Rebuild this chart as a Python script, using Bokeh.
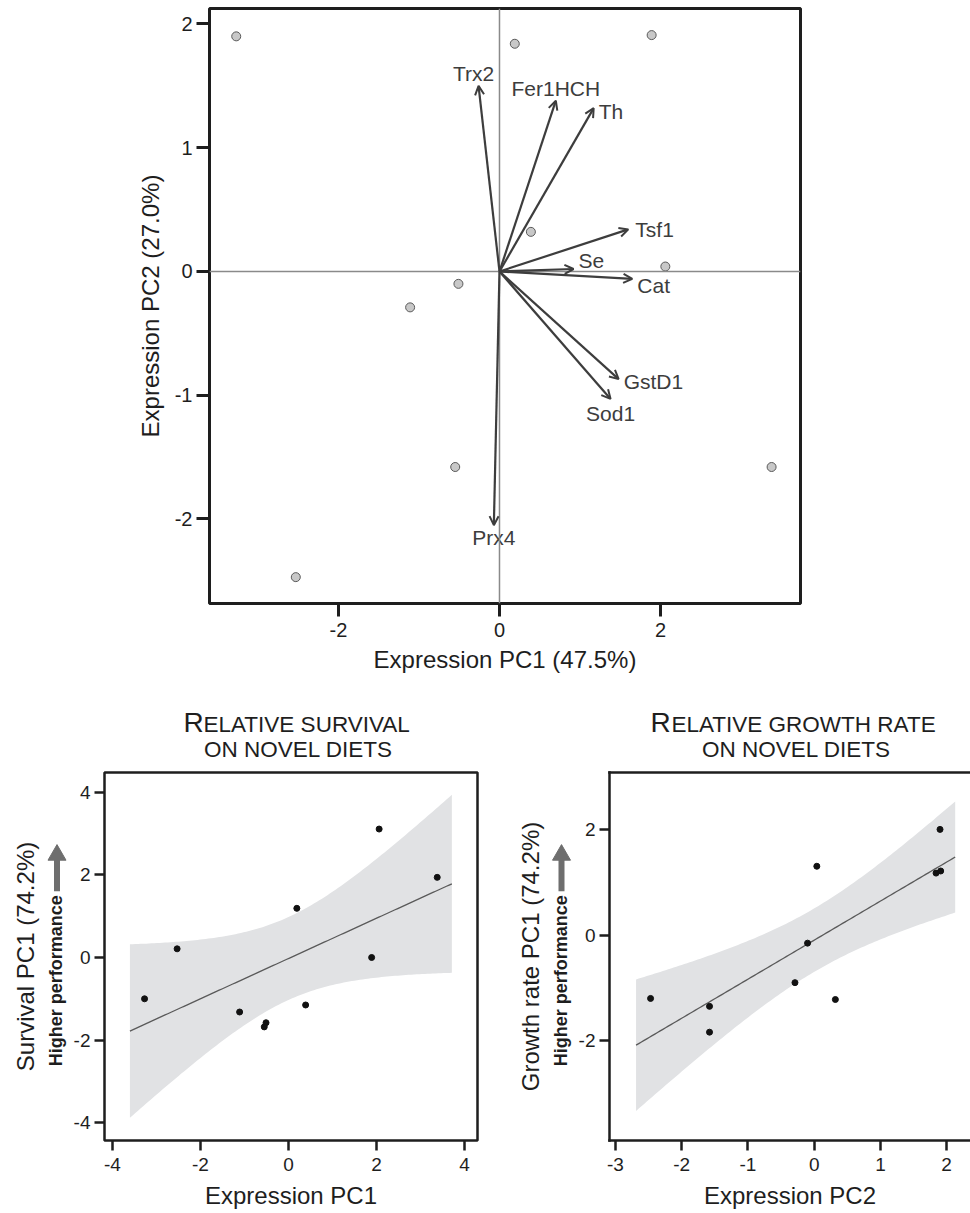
import numpy as np
from bokeh.plotting import figure
from bokeh.models import (ColumnDataSource, Arrow, OpenHead, Span, FixedTicker, LinearAxis, Range1d)
from bokeh.layouts import column, row
from bokeh.core.properties import value
from bokeh.embed import file_html
from bokeh.resources import INLINE

FONT = "Liberation Sans"

# ---------------- data ----------------
pc1 = [-3.27, 0.19, 1.89, 0.39, 2.06, -0.51, -1.11, -0.55, 3.38, -2.53]
pc2 = [1.90, 1.84, 1.91, 0.32, 0.04, -0.10, -0.29, -1.58, -1.58, -2.47]
survival = [-1.00, 1.19, 0.00, -1.15, 3.11, -1.58, -1.32, -1.68, 1.94, 0.21]
growth = [2.01, 1.18, 1.22, -1.22, 1.31, -0.15, -0.90, -1.35, -1.84, -1.20]

genes = ["Trx2", "Fer1HCH", "Th", "Tsf1", "Se", "Cat", "GstD1", "Sod1", "Prx4"]
load_x = [-0.26, 0.70, 1.17, 1.60, 0.92, 1.65, 1.48, 1.38, -0.07]
load_y = [1.50, 1.38, 1.32, 0.34, 0.02, -0.06, -0.87, -1.03, -2.05]

top_xticks = [-2, 0, 2]
top_yticks = [-2, -1, 0, 1, 2]
bl_xticks = [-4, -2, 0, 2, 4]
bl_yticks = [-4, -2, 0, 2, 4]
br_xticks = [-3, -2, -1, 0, 1, 2]
br_yticks = [-2, 0, 2]

T_CRIT = 2.306  # t(0.975, df=8)

# label styling for gene names (pixel offsets from arrow tips)
lab_dx = [-5, 0, 5, 7, 5, 5, 5, 0, 0]
lab_dy = [-12, -12, 3, 0, -8, 7, 2, 15, 12]
lab_align = ["center", "center", "left", "left", "left", "left", "left", "center", "center"]

INK = "#1e1e1e"
ARROW = "#3d3d3d"
GREY_ARROW = "#6e6e6e"

LOW_H = 441        # height of lower panels
LOW_TOP = 2        # border above lower frames
LOW_BOTTOM = 67    # border below lower frames
FRAME_H = LOW_H - LOW_TOP - LOW_BOTTOM


def style(p, xticks, yticks, tick_w, tick_out, tick_size, lab_size, xstand, ystand, xl_stand, yl_stand):
    p.xgrid.visible = False
    p.ygrid.visible = False
    p.xaxis.ticker = FixedTicker(ticks=xticks)
    p.yaxis.ticker = FixedTicker(ticks=yticks)
    p.xaxis.major_label_overrides = {t: str(t) for t in xticks}
    p.yaxis.major_label_overrides = {t: str(t) for t in yticks}
    for ax, st, lst in ((p.xaxis, xstand, xl_stand), (p.yaxis, ystand, yl_stand)):
        ax.major_tick_line_width = tick_w
        ax.major_tick_line_color = INK
        ax.major_tick_out = tick_out
        ax.major_tick_in = 0
        ax.minor_tick_line_color = None
        ax.axis_line_color = None
        ax.major_label_text_font = FONT
        ax.major_label_text_font_size = tick_size
        ax.major_label_text_color = INK
        ax.major_label_standoff = st
        ax.axis_label_text_font = FONT
        ax.axis_label_text_font_size = lab_size
        ax.axis_label_text_font_style = "normal"
        ax.axis_label_text_color = INK
        ax.axis_label_standoff = lst


def blank(width, height, top=0, bottom=0):
    f = figure(width=width, height=height, x_range=Range1d(0, width),
               y_range=Range1d(0, height - top - bottom),
               output_backend="svg", toolbar_location=None,
               min_border_left=0, min_border_right=0, min_border_top=top, min_border_bottom=bottom)
    f.axis.visible = False
    f.grid.visible = False
    f.outline_line_color = None
    return f


# ---------------- top biplot ----------------
top = figure(width=970, height=688, x_range=Range1d(-3.602, 3.739), y_range=Range1d(-2.683, 2.125),
             output_backend="svg", toolbar_location=None,
             min_border_left=209, min_border_right=170, min_border_top=8, min_border_bottom=85,
             x_axis_label="Expression PC1 (47.5%)", y_axis_label="Expression PC2 (27.0%)")
style(top, top_xticks, top_yticks, 3, 13, "20px", "24px", 6, 4, 6, 8)
top.outline_line_color = INK
top.outline_line_width = 3

top.add_layout(Span(location=0, dimension="height", line_color="#8a8a8a", line_width=1.5))
top.add_layout(Span(location=0, dimension="width", line_color="#8a8a8a", line_width=1.5))

arr_src = ColumnDataSource(dict(x0=[0] * len(genes), y0=[0] * len(genes), x1=load_x, y1=load_y))
top.add_layout(Arrow(end=OpenHead(size=9, line_width=2, line_color=ARROW),
                     x_start="x0", y_start="y0", x_end="x1", y_end="y1", source=arr_src,
                     line_color=ARROW, line_width=2.2))

top.scatter(pc1, pc2, size=9, fill_color="#c8c8c8", line_color="#5a5a5a", line_width=1)

lab_src = ColumnDataSource(dict(x=load_x, y=load_y, t=genes, dx=lab_dx, dy=lab_dy, al=lab_align))
top.text(x="x", y="y", text="t", x_offset="dx", y_offset="dy", text_align="al", text_baseline="middle",
         source=lab_src, text_font=value(FONT), text_font_size="21px", text_color=ARROW)


# ---------------- helpers ----------------
def add_fit(p, xs, ys):
    x = np.array(xs, dtype=float)
    y = np.array(ys, dtype=float)
    n = len(x)
    b, a = np.polyfit(x, y, 1)
    resid = y - (a + b * x)
    s = np.sqrt(np.sum(resid ** 2) / (n - 2))
    sxx = np.sum((x - x.mean()) ** 2)
    span = x.max() - x.min()
    xg = np.linspace(x.min() - 0.05 * span, x.max() + 0.05 * span, 120)
    yg = a + b * xg
    se = s * np.sqrt(1.0 / n + (xg - x.mean()) ** 2 / sxx)
    p.varea(x=xg, y1=yg - T_CRIT * se, y2=yg + T_CRIT * se, fill_color="#e1e2e4")
    p.line(xg, yg, line_color="#5a5a5a", line_width=1.3)
    p.scatter(xs, ys, size=6, fill_color="#111111", line_color="#111111")


def side_panel(width, ylabel, x_lab, x_hp, x_arr):
    # frame matches the neighbouring plot frame; y measured up from the frame bottom
    f = blank(width, LOW_H, LOW_TOP, LOW_BOTTOM)
    f.text(x=[x_lab], y=[186], text=[ylabel], angle=np.pi / 2, text_align="center",
           text_baseline="middle", text_font=value(FONT), text_font_size="24px", text_color=INK)
    f.text(x=[x_hp], y=[161.5], text=["Higher performance"], angle=np.pi / 2, text_align="center",
           text_baseline="middle", text_font=value(FONT), text_font_size="18px",
           text_font_style="bold", text_color=INK)
    f.segment(x0=[x_arr], y0=[252], x1=[x_arr], y1=[285], line_color=GREY_ARROW, line_width=6)
    f.scatter(x=[x_arr], y=[288.6], marker="triangle", size=18, fill_color=GREY_ARROW,
              line_color=GREY_ARROW)
    return f


def title_panel(width, xr, xrest, xc, line1, line2):
    f = blank(width, 82)
    f.text(x=[xr], y=[47.8], text=[line1[0]], text_align="left", text_baseline="middle",
           text_font=value(FONT), text_font_size="28px", text_color=INK)
    f.text(x=[xrest], y=[45.9], text=[line1[1:]], text_align="left", text_baseline="middle",
           text_font=value(FONT), text_font_size="22.5px", text_color=INK)
    f.text(x=[xc], y=[20.9], text=[line2], text_align="center", text_baseline="middle",
           text_font=value(FONT), text_font_size="22.5px", text_color=INK)
    return f


# ---------------- bottom left ----------------
bl = figure(width=435, height=LOW_H, x_range=Range1d(-4.18, 4.295), y_range=Range1d(-4.431, 4.479),
            output_backend="svg", toolbar_location=None,
            min_border_left=34, min_border_right=28, min_border_top=LOW_TOP, min_border_bottom=LOW_BOTTOM,
            x_axis_label="Expression PC1")
style(bl, bl_xticks, bl_yticks, 2.5, 10, "19px", "24px", 7, 4, 8, 4)
bl.outline_line_color = INK
bl.outline_line_width = 2.5
add_fit(bl, pc1, survival)

side_bl = side_panel(70, "Survival PC1 (74.2%)", 25, 55, 56.5)
title_bl = title_panel(505, 183, 203, 298, "RELATIVE SURVIVAL", "ON NOVEL DIETS")

# ---------------- bottom right ----------------
br = figure(width=397, height=LOW_H, x_range=Range1d(-3.09, 2.36), y_range=Range1d(-3.897, 3.09),
            output_backend="svg", toolbar_location=None,
            min_border_left=36, min_border_right=0, min_border_top=LOW_TOP, min_border_bottom=LOW_BOTTOM,
            x_axis_label="Expression PC2")
style(br, br_xticks, br_yticks, 2.5, 10, "19px", "24px", 7, 4, 8, 4)
br.outline_line_color = None
for ax in (br.xaxis, br.yaxis):
    ax.axis_line_color = INK
    ax.axis_line_width = 2.5
    ax.axis_line_cap = "square"
top_line = LinearAxis(ticker=FixedTicker(ticks=[]), axis_line_color=INK, axis_line_width=2.5,
                      axis_line_cap="square", major_tick_line_color=None, minor_tick_line_color=None,
                      major_label_text_font_size="0px")
br.add_layout(top_line, "above")
add_fit(br, pc2, growth)

side_br = side_panel(68, "Growth rate PC1 (74.2%)", 25, 55.5, 56)
title_br = title_panel(465, 145, 166, 291, "RELATIVE GROWTH RATE", "ON NOVEL DIETS")

layout = column(top,
                row(column(title_bl, row(side_bl, bl)),
                    column(title_br, row(side_br, br))))
open("out.html", "w").write(file_html(layout, INLINE))
